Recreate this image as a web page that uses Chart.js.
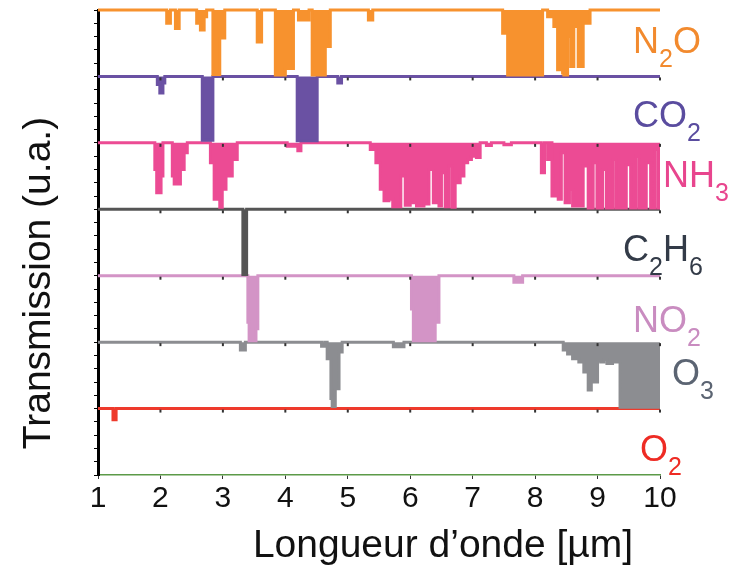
<!DOCTYPE html>
<html>
<head>
<meta charset="utf-8">
<title>Spectres de transmission</title>
<script src="https://cdn.jsdelivr.net/npm/chart.js@4.4.0/dist/chart.umd.min.js"></script>
<style>
  html, body { margin: 0; padding: 0; background: #fff; }
  canvas { display: block; }
</style>
</head>
<body>
<canvas id="spectra" width="739" height="569"></canvas>
<script>
// x axis ticks (µm)
const wavelengthTicks = [1, 2, 3, 4, 5, 6, 7, 8, 9, 10];

// gas names, top to bottom
const gases = ['N2O', 'CO2', 'NH3', 'C2H6', 'NO2', 'O3', 'O2'];

// spectra as [wavelength µm, transmission 0..1]; a value holds until the next point
const n2o = [
    [1.00, 1], [2.10, 0.80], [2.16, 1], [2.24, 0.72], [2.30, 1],
    [2.58, 0.80], [2.64, 0.70], [2.70, 0.90], [2.74, 1],
    [2.84, 0.03], [2.95, 0.58], [3.03, 1],
    [3.55, 0.52], [3.62, 1],
    [3.84, 0.02], [4.00, 0.12], [4.13, 1],
    [4.21, 0.85], [4.38, 1],
    [4.43, 0.02], [4.64, 0.45], [4.72, 1],
    [5.33, 0.85], [5.40, 1],
    [7.48, 0.65], [7.56, 0.02], [8.12, 1],
    [8.20, 0.90], [8.30, 0.75], [8.36, 0.10], [8.44, 0.05], [8.46, 0.02],
    [8.52, 0.60], [8.57, 0.15], [8.62, 0.75], [8.69, 0.15], [8.77, 0.80], [8.88, 1],
    [10.00, 1]
];
const co2 = [
    [1.00, 1], [1.95, 0.88], [1.99, 0.75], [2.04, 0.90], [2.07, 1],
    [2.67, 0.04], [2.84, 1],
    [4.19, 0.03], [4.51, 1],
    [4.84, 0.90], [4.90, 1],
    [10.00, 1]
];
const nh3 = [
    [1.00, 1], [1.91, 0.60], [1.94, 0.25], [2.01, 0.50], [2.04, 1],
    [2.19, 0.50], [2.22, 0.38], [2.32, 0.60], [2.38, 0.85], [2.43, 1],
    [2.80, 0.70], [2.86, 0.15], [2.92, 0.25], [2.95, 0.03], [2.99, 0.30],
    [3.05, 0.50], [3.15, 0.75], [3.23, 1],
    [4.03, 0.95], [4.20, 0.88], [4.25, 1],
    [5.36, 0.90], [5.45, 0.70], [5.52, 0.30], [5.58, 0.13], [5.66, 0.15],
    [5.72, 0.04], [5.85, 0.50], [5.92, 0.06], [6.00, 0.10],
    [6.10, 0.05], [6.22, 0.08], [6.30, 0.60], [6.37, 0.10],
    [6.46, 0.05], [6.50, 0.55], [6.56, 0.04], [6.62, 0.65], [6.67, 0.03],
    [6.72, 0.40], [6.80, 0.50], [6.86, 0.70], [6.92, 0.75], [6.98, 0.80],
    [7.06, 0.78], [7.12, 1],
    [7.22, 0.96], [7.30, 1], [7.50, 0.97], [7.62, 1],
    [8.10, 0.55], [8.15, 1], [8.20, 0.75], [8.24, 1],
    [8.27, 0.20], [8.33, 0.60], [8.37, 0.15], [8.42, 0.85], [8.48, 0.10],
    [8.55, 0.30], [8.60, 0.05], [8.77, 0.65], [8.85, 0.02], [8.93, 0.70],
    [8.99, 0.02], [9.08, 0.60], [9.14, 0.02], [9.25, 0.75], [9.30, 0.02],
    [9.46, 0.67], [9.53, 0.02], [9.62, 0.80], [9.67, 0.02], [9.78, 0.70],
    [9.85, 0.02], [9.92, 0.90], [9.97, 0.02], [10.00, 0.02]
];
const c2h6 = [
    [1.00, 1], [3.32, 0.02], [3.38, 1], [10.00, 1]
];
const no2 = [
    [1.00, 1], [3.40, 0.30], [3.42, 0.02], [3.53, 0.20], [3.56, 1],
    [6.02, 0.50], [6.05, 0.02], [6.40, 0.30], [6.46, 1],
    [7.66, 0.90], [7.80, 1],
    [10.00, 1]
];
const o3 = [
    [1.00, 1], [3.28, 0.88], [3.36, 1],
    [4.58, 0.94], [4.63, 1],
    [4.67, 0.75], [4.73, 0.15], [4.75, 0.03], [4.80, 0.30], [4.86, 0.85], [4.91, 1],
    [5.73, 0.93], [5.90, 1],
    [8.45, 0.88], [8.52, 0.82], [8.60, 0.75], [8.70, 0.70], [8.78, 0.55],
    [8.85, 0.28], [8.90, 0.55], [8.93, 0.40], [9.00, 0.72], [9.05, 0.70],
    [9.10, 0.74], [9.15, 0.68], [9.24, 0.70], [9.36, 0.02], [10.00, 0.02]
];
const o2 = [
    [1.00, 1], [1.24, 0.83], [1.29, 1], [10.00, 1]
];

const spectra = [n2o, co2, nh3, c2h6, no2, o3, o2];
const lineColors = ['#f7922e', '#6a51a3', '#ec4b94', '#555555', '#d394c6', '#8c8d91', '#ee3a2c'];
const labelColors = ['#f28a2e', '#5a4c9f', '#e8458e', '#333b48', '#c98cc0', '#5b6472', '#ee2b24'];

const FONT = '"Liberation Sans", Arial, sans-serif';
const nBands = gases.length;

const datasets = spectra.map((points, k) => {
    const top = nBands - k;   // band k sits between top-1 and top
    return {
        label: gases[k],
        data: points.map(([x, t]) => ({ x: x, y: top - 1 + t })),
        borderColor: lineColors[k],
        backgroundColor: lineColors[k],
        borderWidth: 3,
        pointRadius: 0,
        stepped: true,
        clip: false,
        fill: { value: top }
    };
});

// gas names on the right, digits as subscripts
const gasLabels = {
    id: 'gasLabels',
    afterDraw(chart) {
        const ctx = chart.ctx;
        const area = chart.chartArea;
        const y = chart.scales.y;
        const dx = [-27, -27, 3, -37, -27, 12, -20];
        const dy = [43, 51, 44, 52, 56, 43, 52];
        ctx.save();
        ctx.textBaseline = 'alphabetic';
        ctx.textAlign = 'left';
        gases.forEach((name, k) => {
            let px = area.right + dx[k];
            const py = y.getPixelForValue(nBands - k) + dy[k];
            ctx.fillStyle = labelColors[k];
            for (const ch of name) {
                const sub = /[0-9]/.test(ch);
                ctx.font = sub ? `25px ${FONT}` : `36px ${FONT}`;
                ctx.fillText(ch, px, sub ? py + 14 : py);
                px += ctx.measureText(ch).width;
            }
        });
        ctx.restore();
    }
};

// little tick marks under every band baseline + axis titles
const decorations = {
    id: 'decorations',
    afterDraw(chart) {
        const ctx = chart.ctx;
        const area = chart.chartArea;
        const x = chart.scales.x;
        const y = chart.scales.y;
        ctx.save();
        ctx.fillStyle = '#333';
        for (let k = 1; k < nBands; k++) {
            const py = y.getPixelForValue(nBands - k);
            wavelengthTicks.slice(1).forEach(w => {
                ctx.fillRect(x.getPixelForValue(w) - 1, py + 1, 2, 3);
            });
        }

        ctx.fillStyle = '#111';
        ctx.font = `39px ${FONT}`;
        ctx.textAlign = 'center';
        ctx.textBaseline = 'middle';
        ctx.fillText('Longueur d\u2019onde [\u00b5m]', area.left + 345, 546);

        ctx.translate(39, 283);
        ctx.rotate(-Math.PI / 2);
        ctx.fillText('Transmission (u.a.)', 0, 0);
        ctx.restore();
    }
};

new Chart(document.getElementById('spectra'), {
    type: 'line',
    data: { datasets: datasets },
    plugins: [gasLabels, decorations],
    options: {
        responsive: false,
        animation: false,
        layout: { padding: { top: 10, right: 79, left: 0, bottom: 0 } },
        plugins: {
            legend: { display: false },
            tooltip: { enabled: false }
        },
        scales: {
            x: {
                type: 'linear',
                min: 1,
                max: 10,
                afterBuildTicks: (scale) => {
                    scale.ticks = wavelengthTicks.map(v => ({ value: v }));
                },
                afterFit: (scale) => { scale.height = 94; },
                border: { color: '#5c9a48', width: 1.5 },
                grid: { drawOnChartArea: false, drawTicks: true, tickLength: 4, color: '#333' },
                ticks: {
                    color: '#111',
                    padding: 2,
                    font: { family: FONT, size: 30 }
                }
            },
            y: {
                min: 0,
                max: nBands,
                afterFit: (scale) => { scale.width = 98; },
                border: { color: '#000', width: 3 },
                grid: { drawOnChartArea: false, drawTicks: true, tickLength: 4, color: '#000' },
                ticks: { display: false, stepSize: 0.2 }
            }
        }
    }
});
</script>
</body>
</html>
